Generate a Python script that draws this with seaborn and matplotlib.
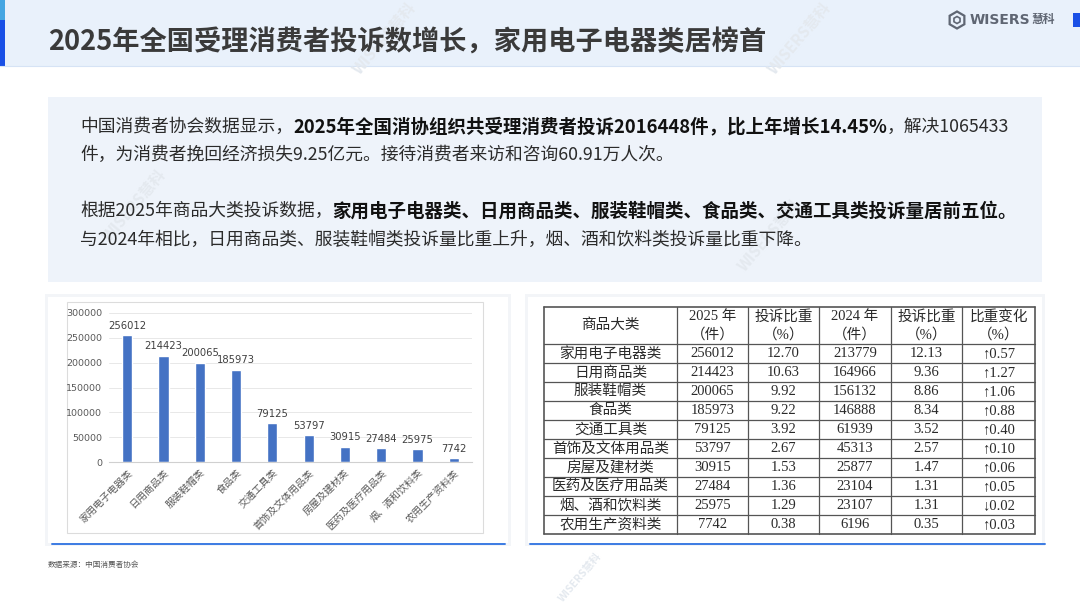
import matplotlib
matplotlib.use('Agg')
import matplotlib.pyplot as plt
import seaborn as sns
import pandas as pd
from matplotlib.patches import Rectangle, RegularPolygon

# ---------------- data ----------------
categories = ['家用电子电器类', '日用商品类', '服装鞋帽类', '食品类', '交通工具类',
              '首饰及文体用品类', '房屋及建材类', '医药及医疗用品类', '烟、酒和饮料类', '农用生产资料类']
count_2025 = [256012, 214423, 200065, 185973, 79125, 53797, 30915, 27484, 25975, 7742]
share_2025 = [12.70, 10.63, 9.92, 9.22, 3.92, 2.67, 1.53, 1.36, 1.29, 0.38]
count_2024 = [213779, 164966, 156132, 146888, 61939, 45313, 25877, 23104, 23107, 6196]
share_2024 = [12.13, 9.36, 8.86, 8.34, 3.52, 2.57, 1.47, 1.31, 1.31, 0.35]
share_change = [0.57, 1.27, 1.06, 0.88, 0.40, 0.10, 0.06, 0.05, -0.02, 0.03]
y_ticks = [0, 50000, 100000, 150000, 200000, 250000, 300000]
table_headers = [['商品大类'], ['2025 年', '（件）'], ['投诉比重', '（%）'],
                 ['2024 年', '（件）'], ['投诉比重', '（%）'], ['比重变化', '（%）']]

title = '2025年全国受理消费者投诉数增长，家用电子电器类居榜首'
para_lines = [
    [('中国消费者协会数据显示，', False),
     ('2025年全国消协组织共受理消费者投诉2016448件，比上年增长14.45%', True),
     ('，解决1065433', False)],
    [('件，为消费者挽回经济损失9.25亿元。接待消费者来访和咨询60.91万人次。', False)],
    [('根据2025年商品大类投诉数据，', False),
     ('家用电子电器类、日用商品类、服装鞋帽类、食品类、交通工具类投诉量居前五位。', True)],
    [('与2024年相比，日用商品类、服装鞋帽类投诉量比重上升，烟、酒和饮料类投诉量比重下降。', False)],
]
source_text = '数据来源：中国消费者协会'
logo_text = 'WISERS'
logo_cn = '慧科'

# ---------------- style ----------------
sns.set_theme(style='white')
CJK = ['Noto Sans CJK SC', 'DejaVu Sans']
SERIF = ['Liberation Serif', 'Noto Sans CJK SC', 'DejaVu Sans']
plt.rcParams['font.family'] = CJK

W, H = 1080, 608
fig = plt.figure(figsize=(W / 100, H / 100), dpi=100)
fig.patch.set_facecolor('white')


def frac(x0, y0, x1, y1):
    return [x0 / W, 1 - y1 / H, (x1 - x0) / W, (y1 - y0) / H]


bg = fig.add_axes([0, 0, 1, 1], zorder=0)
bg.set_xlim(0, W)
bg.set_ylim(H, 0)
bg.axis('off')
renderer = fig.canvas.get_renderer()

# header band
bg.add_patch(Rectangle((0, 0), W, 66, facecolor='#e9f1fb', edgecolor='none'))
bg.plot([0, W], [66, 66], color='#d6e3f5', lw=0.8)
bg.add_patch(Rectangle((0, 0), 5, 20, facecolor='#45a6e2', edgecolor='none'))
bg.add_patch(Rectangle((0, 20), 5, 46, facecolor='#1a50e6', edgecolor='none'))
bg.add_patch(Rectangle((1073, 13), 7, 14, facecolor='#1a50e6', edgecolor='none'))

# text box
bg.add_patch(Rectangle((48, 97), 994, 185, facecolor='#eef3fa', edgecolor='none'))

# watermarks (faint, diagonal) - above backgrounds, below content
for (wx, wy, wfs) in [(800, 38, 11), (385, 38, 11), (135, 205, 11), (770, 235, 11), (580, 577, 7.5)]:
    bg.text(wx, wy, 'WISERS慧科', fontsize=wfs, fontweight='bold', color='#e4e9ef',
            rotation=50, ha='center', va='center', zorder=2.6)

bg.text(48, 43, title, fontsize=19.6, fontweight='bold', color='#3a3a3a', va='center', ha='left')

# logo
bg.add_patch(RegularPolygon((957, 20), numVertices=6, radius=8.5, orientation=0,
                            facecolor='none', edgecolor='#5f6673', lw=1.6))
bg.add_patch(RegularPolygon((957, 20), numVertices=6, radius=3.5, orientation=0,
                            facecolor='none', edgecolor='#5f6673', lw=1.2))
t = bg.text(970, 20, logo_text, fontsize=10, fontweight='bold', color='#5f6673',
            va='center', ha='left', family=['DejaVu Sans'])
bb = t.get_window_extent(renderer)
bg.text(970 + bb.width + 1, 20, logo_cn, fontsize=8.5, fontweight='bold', color='#5f6673',
        va='center', ha='left')

# paragraph text
line_y = [127, 155, 211, 240]
for ly, segs in zip(line_y, para_lines):
    x = 80
    for txt, bold in segs:
        tt = bg.text(x, ly, txt, fontsize=13.3 if bold else 12.8,
                     fontweight='bold' if bold else 'normal',
                     color='#111111' if bold else '#2b2b2b', va='center', ha='left')
        x += tt.get_window_extent(renderer).width

# cards
for (cx0, cx1) in [(48, 508), (528, 1042)]:
    bg.add_patch(Rectangle((cx0 - 3, 294), cx1 - cx0 + 6, 252, facecolor='#f3f5f8',
                           edgecolor='none', zorder=2))
    bg.add_patch(Rectangle((cx0, 297), cx1 - cx0, 246, facecolor='white',
                           edgecolor='none', zorder=2))
bg.plot([52, 505], [543.5, 543.5], color='#3b7be3', lw=1.4, zorder=2.5)
bg.plot([530, 1045], [543.5, 543.5], color='#3b7be3', lw=1.4, zorder=2.5)

# chart inner frame
bg.add_patch(Rectangle((67, 302), 416, 231, facecolor='white', edgecolor='#dcdcdc',
                       lw=0.8, zorder=2.5))

# footer
bg.text(48, 565, source_text, fontsize=5.5, color='#555555', va='center', ha='left')

# ---------------- bar chart ----------------
ax = fig.add_axes(frac(109, 313, 472, 462), zorder=2)
ax.patch.set_alpha(0)
df = pd.DataFrame({'category': categories, 'count': count_2025})
sns.barplot(data=df, x='category', y='count', color='#4472C4', saturation=1,
            width=0.28, ax=ax)
ax.set_ylim(0, 300000)
ax.set_yticks(y_ticks)
ax.set_yticklabels([str(v) for v in y_ticks], fontsize=6.8, color='#595959', family=['DejaVu Sans'])
ax.tick_params(axis='y', length=0, pad=5)
ax.grid(axis='y', color='#e8e8e8', lw=0.7)
ax.set_axisbelow(True)
for s in ['top', 'right', 'left']:
    ax.spines[s].set_visible(False)
ax.spines['bottom'].set_color('#d0d0d0')
ax.spines['bottom'].set_linewidth(0.8)
ax.set_xticks(range(len(categories)))
ax.set_xticklabels(categories, rotation=45, ha='right', rotation_mode='anchor',
                   fontsize=7.2, color='#595959')
ax.tick_params(axis='x', length=0, pad=4)
ax.set_xticks([i + 0.5 for i in range(len(categories))], minor=True)
ax.tick_params(axis='x', which='minor', length=3, color='#d0d0d0', width=0.8)
ax.set_xlabel('')
ax.set_ylabel('')
ax.bar_label(ax.containers[0], fmt='%d', fontsize=7.2, color='#404040', padding=3,
             family=['DejaVu Sans'])

# ---------------- table ----------------
col_edges = [544, 677, 748, 819, 891, 962, 1035]
tbl_top, head_bot, row_h = 307, 344, 19
n = len(categories)
tbl_bot = head_bot + row_h * n
line_c = '#555555'
for xe in col_edges:
    bg.plot([xe, xe], [tbl_top, tbl_bot], color=line_c, zorder=3,
            lw=0.9 if xe not in (col_edges[0], col_edges[-1]) else 1.2)
bg.plot([col_edges[0], col_edges[-1]], [tbl_top, tbl_top], color=line_c, lw=1.2, zorder=3)
bg.plot([col_edges[0], col_edges[-1]], [tbl_bot, tbl_bot], color=line_c, lw=1.2, zorder=3)
for i in range(n):
    yy = head_bot + row_h * i
    bg.plot([col_edges[0], col_edges[-1]], [yy, yy], color=line_c, lw=0.9, zorder=3)

tc = '#2a2a2a'
fs = 10.5
for j, hdr in enumerate(table_headers):
    cx = (col_edges[j] + col_edges[j + 1]) / 2
    if len(hdr) == 1:
        bg.text(cx, (tbl_top + head_bot) / 2, hdr[0], fontsize=fs, color=tc,
                ha='center', va='center', family=SERIF, zorder=4)
    else:
        bg.text(cx, tbl_top + 9.5, hdr[0], fontsize=fs, color=tc, ha='center', va='center',
                family=SERIF, zorder=4)
        bg.text(cx, tbl_top + 28, hdr[1], fontsize=fs, color=tc, ha='center', va='center',
                family=SERIF, zorder=4)

for i in range(n):
    cy = head_bot + row_h * i + row_h / 2
    ch = share_change[i]
    cells = [categories[i], str(count_2025[i]), f'{share_2025[i]:.2f}', str(count_2024[i]),
             f'{share_2024[i]:.2f}', ('↑' if ch >= 0 else '↓') + f'{abs(ch):.2f}']
    for j, c in enumerate(cells):
        cx = (col_edges[j] + col_edges[j + 1]) / 2
        bg.text(cx, cy, c, fontsize=fs, color=tc, ha='center', va='center', family=SERIF, zorder=4)

fig.savefig('out.png', dpi=100, facecolor='white')
